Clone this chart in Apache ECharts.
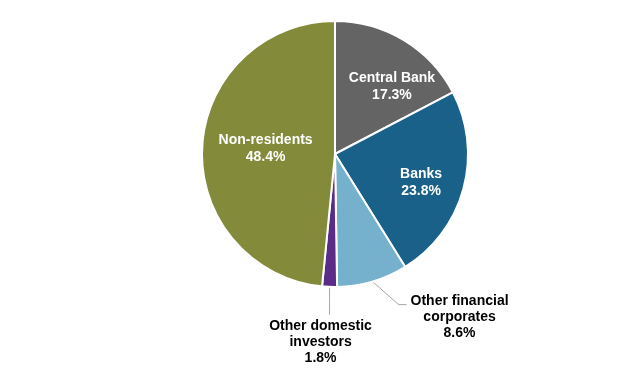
<!DOCTYPE html>
<html><head><meta charset="utf-8">
<script src="https://cdn.jsdelivr.net/npm/echarts@6/dist/echarts.min.js"></script>
<style>html,body{margin:0;padding:0;background:#fff}#c{width:640px;height:384px}</style>
</head><body><div id="c"></div>
<script>
const categories = ['Central Bank', 'Banks', 'Other financial\ncorporates', 'Other domestic\ninvestors', 'Non-residents'];
const values = [17.3, 23.8, 8.6, 1.8, 48.4];
const colors = ['#646464', '#1A6189', '#75B0CC', '#5A2B87', '#838B3B'];
const outside = [false, false, true, true, false];

const chart = echarts.init(document.getElementById('c'));
const font = '"Liberation Sans", Arial, sans-serif';
const data = categories.map((name, i) => ({
  name, value: values[i],
  itemStyle: { color: colors[i] },
  label: outside[i]
    ? { position: 'outside', color: '#000', lineHeight: 16 }
    : { position: 'inside', color: '#fff', lineHeight: 17 },
  labelLine: { show: outside[i] }
}));

// label offsets (style, not data)
const insideShift = { 0: [21, -8], 1: [19, 10], 4: [0, -2] };

chart.setOption({
  animation: false,
  series: [{
    type: 'pie',
    center: [335, 154],
    radius: 133,
    startAngle: 90,
    clockwise: true,
    avoidLabelOverlap: false,
    itemStyle: { borderColor: '#fff', borderWidth: 2 },
    label: {
      formatter: p => p.name + '\n' + p.value.toFixed(1) + '%',
      fontFamily: font, fontWeight: 'bold', fontSize: 14, lineHeight: 17,
      align: 'center'
    },
    labelLine: { lineStyle: { color: '#A6A6A6', width: 1 }, length: 10, length2: 10 },
    labelLayout: function (p) {
      const i = p.dataIndex;
      if (!outside[i]) {
        const s = insideShift[i];
        return { dx: s[0], dy: s[1] };
      }
      const pts = p.labelLinePoints;
      const x0 = pts[0][0], y0 = pts[0][1];
      if (i === 2) {
        return {
          x: x0 + 87, y: y0 + 12, align: 'center', verticalAlign: 'top',
          labelLinePoints: [[x0, y0], [x0 + 26, y0 + 23], [x0 + 34, y0 + 23]]
        };
      }
      return {
        x: x0 - 9, y: y0 + 31, align: 'center', verticalAlign: 'top',
        labelLinePoints: [[x0, y0], [x0, y0 + 14], [x0, y0 + 28]]
      };
    },
    data
  }]
});
</script></body></html>
